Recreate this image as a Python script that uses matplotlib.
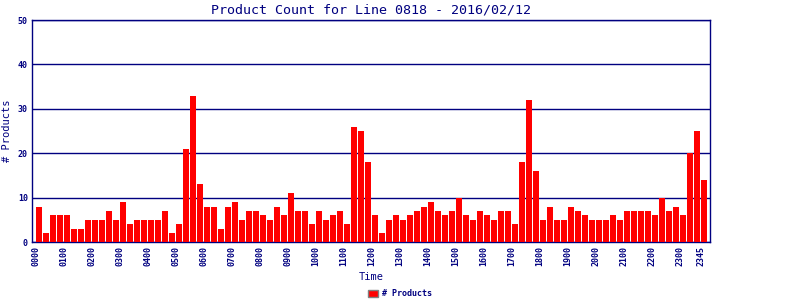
import matplotlib
matplotlib.use('Agg')
import matplotlib.pyplot as plt
import numpy as np

# product counts per 15-minute slot, 0000 .. 2345
counts = [8, 2, 6, 6, 6, 3, 3, 5, 5, 5, 7, 5, 9, 4, 5, 5, 5, 5, 7, 2, 4, 21, 33, 13,
          8, 8, 3, 8, 9, 5, 7, 7, 6, 5, 8, 6, 11, 7, 7, 4, 7, 5, 6, 7, 4, 26, 25, 18,
          6, 2, 5, 6, 5, 6, 7, 8, 9, 7, 6, 7, 10, 6, 5, 7, 6, 5, 7, 7, 4, 18, 32, 16,
          5, 8, 5, 5, 8, 7, 6, 5, 5, 5, 6, 5, 7, 7, 7, 7, 6, 10, 7, 8, 6, 20, 25, 14]
slots = ['%02d%02d' % (h, m) for h in range(24) for m in (0, 15, 30, 45)]
tick_idx = list(range(0, 96, 4)) + [95]
y_ticks = [0, 10, 20, 30, 40, 50]

navy = '#000080'
mono = 'DejaVu Sans Mono'

fig = plt.figure(figsize=(8, 3), dpi=100)
ax = fig.add_axes([0.04, 0.193, 0.8475, 0.74])

x = np.arange(len(counts))
ax.bar(x, counts, width=6/7, color='#ff0000', label='# Products', zorder=3)

ax.set_xlim(-1, 95.9)
ax.set_ylim(0, 50)
ax.set_yticks(y_ticks)
ax.set_yticklabels([str(v) for v in y_ticks], fontsize=6, fontweight='bold',
                   family=mono, color=navy)
ax.set_xticks([i - 0.4 for i in tick_idx])
ax.set_xticklabels([slots[i] for i in tick_idx], rotation=90, fontsize=6,
                   fontweight='bold', family=mono, color=navy)
ax.tick_params(axis='both', length=0, pad=3)
ax.yaxis.grid(True, color=navy, linewidth=1, zorder=1)
for s in ax.spines.values():
    s.set_color(navy)
    s.set_linewidth(1)

ax.set_title('Product Count for Line 0818 - 2016/02/12', fontsize=9.6,
             family=mono, color=navy, pad=5)
ax.set_xlabel('Time', fontsize=7.5, family=mono, color=navy, labelpad=4)
ax.set_ylabel('# Products', fontsize=7.5, family=mono, color=navy, labelpad=4)

leg = fig.legend(loc='center', bbox_to_anchor=(0.5, 0.02), frameon=False,
                 prop={'family': mono, 'size': 6, 'weight': 'bold'},
                 handlelength=1.2, handleheight=0.9, handletextpad=0.4)
for t in leg.get_texts():
    t.set_color(navy)
for p in leg.get_patches():
    p.set_edgecolor('#808080')

fig.savefig('out.png', dpi=100)
